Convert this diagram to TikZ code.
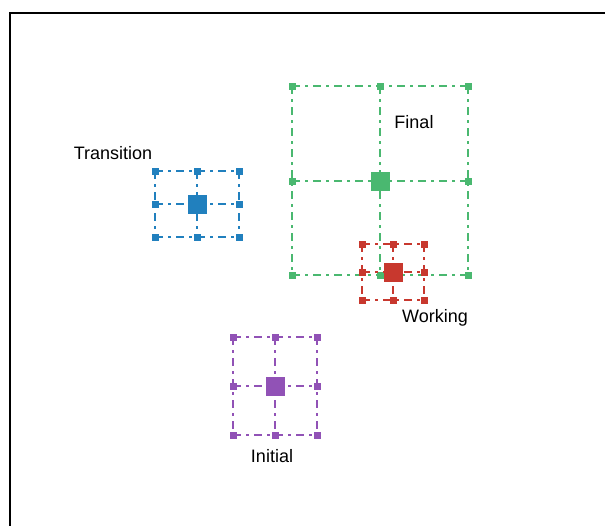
\documentclass[tikz,border=0pt]{standalone}
\usepackage{fontspec}
\setmainfont{Liberation Sans}
\definecolor{cblue}{RGB}{33,128,190}
\definecolor{cgreen}{RGB}{74,184,112}
\definecolor{cred}{RGB}{200,56,46}
\definecolor{cpurple}{RGB}{145,82,182}
\tikzset{
  bigsq/.style={draw=#1,fill=#1,minimum size=18pt,inner sep=0pt,outer sep=0pt},
  smallsq/.style={draw=none,fill=#1,minimum size=7pt,inner sep=0pt,outer sep=0pt},
  gridline/.style={draw=#1,line width=1.5pt,dash pattern=on 8pt off 5pt on 3pt off 5pt},
  lbl/.style={font=\fontsize{18pt}{20pt}\selectfont,inner sep=0pt,text=black}
}
\newcommand{\gridbox}[8]{%
  \node[smallsq=#2] (#1-11) at (#3,#6) {};
  \node[smallsq=#2] (#1-21) at (#4,#6) {};
  \node[smallsq=#2] (#1-31) at (#5,#6) {};
  \node[smallsq=#2] (#1-12) at (#3,#7) {};
  \node[bigsq=#2]   (#1-22) at (#4,#7) {};
  \node[smallsq=#2] (#1-32) at (#5,#7) {};
  \node[smallsq=#2] (#1-13) at (#3,#8) {};
  \node[smallsq=#2] (#1-23) at (#4,#8) {};
  \node[smallsq=#2] (#1-33) at (#5,#8) {};
  \draw[gridline=#2] (#1-11.center) -- (#1-31.center);
  \draw[gridline=#2] (#1-12.center) -- (#1-32.center);
  \draw[gridline=#2] (#1-13.center) -- (#1-33.center);
  \draw[gridline=#2] (#1-11.center) -- (#1-13.center);
  \draw[gridline=#2] (#1-21.center) -- (#1-23.center);
  \draw[gridline=#2] (#1-31.center) -- (#1-33.center);
}
\begin{document}
\begin{tikzpicture}[x=1pt,y=-1pt]
\useasboundingbox (0,0) rectangle (605,525);
\clip (0,0) rectangle (605,525);
\fill[white] (0,0) rectangle (605,525);
\draw[line width=2pt,black] (10,560) -- (10,13) -- (640,13);
\gridbox{tr}{cblue}{155}{197}{239}{171}{204}{237}
\gridbox{fi}{cgreen}{292}{380}{468}{86}{181}{275}
\gridbox{wo}{cred}{362}{393}{424}{244}{272}{300}
\gridbox{in}{cpurple}{233}{275}{317}{337}{386}{435}
\node[lbl] (ltr) at (113,153) {Transition};
\node[lbl] (lfi) at (414,122) {Final};
\node[lbl] (lwo) at (435,318) {Working};
\node[lbl] (lin) at (272,456) {Initial};
\end{tikzpicture}
\end{document}
